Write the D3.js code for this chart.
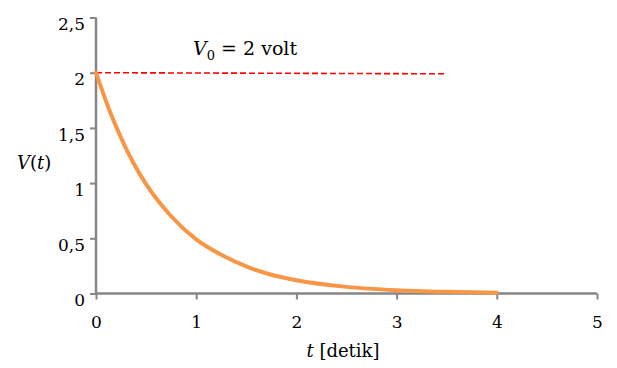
<!DOCTYPE html>
<html>
<head>
<meta charset="utf-8">
<script src="https://cdn.jsdelivr.net/npm/d3@7"></script>
<style>
  body { margin: 0; background: #fff; }
</style>
</head>
<body>
<div id="graph"></div>
<script>
// values
var tValues = [0, 0.125, 0.25, 0.375, 0.5, 0.75, 1, 1.25, 1.5, 1.75, 2, 2.5, 3, 3.5, 4];
var vValues = [2, 1.68, 1.41, 1.18, 0.99, 0.70, 0.49, 0.35, 0.245, 0.17, 0.12, 0.06, 0.03, 0.015, 0.007];
var refT = [0, 3.5];
var refV = [2, 1.99];
var xTicks = [0, 1, 2, 3, 4, 5];
var yTicks = [0, 0.5, 1, 1.5, 2, 2.5];

var width = 617, height = 368;
var serif = "'DejaVu Serif', serif";

var xScale = d3.scaleLinear().domain([0, 5]).range([96, 597]);
var yScale = d3.scaleLinear().domain([0, 2.5]).range([293.5, 17.5]);

var svg = d3.select("#graph").append("svg")
    .attr("width", width)
    .attr("height", height)
    .attr("font-family", serif);

var fmt = function(d) { return String(d).replace(".", ","); };

// Y axis
var yAxis = svg.append("g")
    .attr("transform", "translate(" + xScale(0) + ",0)")
    .call(d3.axisLeft(yScale).tickValues(yTicks).tickFormat(fmt).tickSize(6).tickPadding(5));
yAxis.attr("font-family", serif);
yAxis.select(".domain").attr("stroke", "#868686").attr("stroke-width", 2.5)
    .attr("d", "M0," + yScale(2.5) + "V" + yScale(0));
yAxis.selectAll(".tick line").attr("stroke", "#868686").attr("stroke-width", 2);
yAxis.selectAll(".tick text")
    .attr("dy", "0.72em")
    .style("font-size", "17px");

// X axis
var xAxis = svg.append("g")
    .attr("transform", "translate(0," + yScale(0) + ")")
    .call(d3.axisBottom(xScale).tickValues(xTicks).tickFormat(fmt).tickSize(6).tickPadding(16));
xAxis.attr("font-family", serif);
xAxis.select(".domain").attr("stroke", "#868686").attr("stroke-width", 2.5)
    .attr("d", "M" + xScale(0) + ",0H" + xScale(5));
xAxis.selectAll(".tick line").attr("stroke", "#868686").attr("stroke-width", 2);
xAxis.selectAll(".tick text")
    .style("font-size", "17px");

// reference line V0
var refLine = d3.line()
    .x(function(d, i) { return xScale(refT[i]); })
    .y(function(d) { return yScale(d); });

svg.append("path")
    .datum(refV)
    .attr("d", refLine)
    .attr("fill", "none")
    .attr("stroke", "#ff0000")
    .attr("stroke-width", 1.6)
    .attr("stroke-dasharray", "6,3");

// decay curve
var line = d3.line()
    .x(function(d, i) { return xScale(tValues[i]); })
    .y(function(d) { return yScale(d); })
    .curve(d3.curveMonotoneX);

svg.append("path")
    .datum(vValues)
    .attr("d", line)
    .attr("fill", "none")
    .attr("stroke", "#f79646")
    .attr("stroke-width", 4)
    .attr("stroke-linecap", "round");

// label V0 = 2 volt
var lab = svg.append("text")
    .attr("x", 193)
    .attr("y", 55)
    .style("font-size", "19px");
lab.append("tspan").style("font-style", "italic").text("V");
lab.append("tspan").attr("dy", 5).style("font-size", "13px").text("0");
lab.append("tspan").attr("dy", -5).text(" = 2 volt");

// y axis title
var yl = svg.append("text")
    .attr("x", 17)
    .attr("y", 169)
    .style("font-size", "18px");
yl.append("tspan").style("font-style", "italic").text("V");
yl.append("tspan").text("(");
yl.append("tspan").style("font-style", "italic").text("t");
yl.append("tspan").text(")");

// x axis title
var xl = svg.append("text")
    .attr("x", 343)
    .attr("y", 357)
    .attr("text-anchor", "middle")
    .style("font-size", "18px");
xl.append("tspan").style("font-style", "italic").text("t");
xl.append("tspan").text(" [detik]");
</script>
</body>
</html>
